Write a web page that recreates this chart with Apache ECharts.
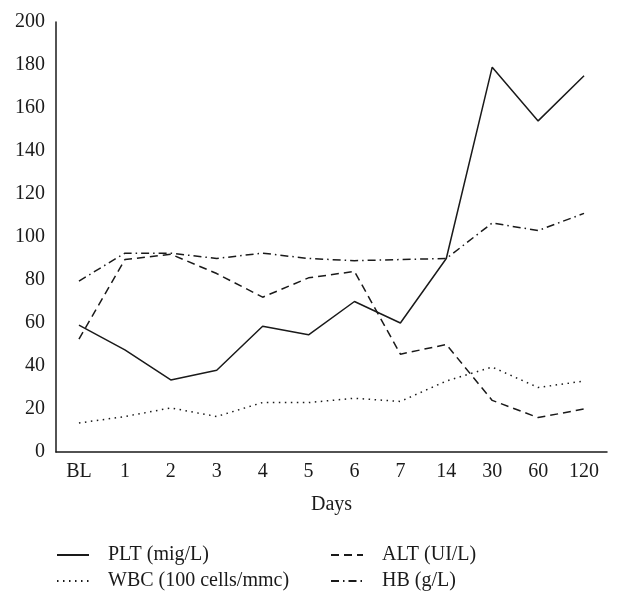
<!DOCTYPE html>
<html>
<head>
<meta charset="utf-8">
<script src="https://cdn.jsdelivr.net/npm/echarts@6/dist/echarts.min.js"></script>
<style>
html,body{margin:0;padding:0;background:#fff;}
#chart{width:620px;height:605px;}
</style>
</head>
<body>
<div id="chart"></div>
<script>
var categories = ['BL', '1', '2', '3', '4', '5', '6', '7', '14', '30', '60', '120'];
var pltValues = [59, 47.5, 33.5, 38, 58.5, 54.5, 70, 60, 90, 179, 154, 175];
var altValues = [52.5, 89.5, 92, 83, 72, 81, 84, 45.5, 50, 24, 16, 20];
var wbcValues = [13.5, 16.5, 20.5, 16.5, 23, 23, 25, 23.5, 33, 39.5, 30, 33];
var hbValues = [79.5, 92.5, 92.5, 90, 92.5, 90, 89, 89.5, 90, 106.5, 103, 111];
var seriesNames = ['PLT (mig/L)', 'ALT (UI/L)', 'WBC (100 cells/mmc)', 'HB (g/L)'];
var yTicks = { min: 0, max: 200, interval: 20 };

var FONT = 'Liberation Serif';
var INK = '#1a1a1a';

function mkSeries(name, data, dash) {
  return {
    name: name,
    type: 'line',
    data: data,
    symbol: 'none',
    showSymbol: false,
    silent: true,
    animation: false,
    lineStyle: { color: INK, width: 1.5, type: dash, cap: 'butt' },
    itemStyle: { color: INK }
  };
}

function mkLegend(name, left, top) {
  return {
    data: [name],
    left: left,
    top: top,
    itemWidth: 32,
    itemHeight: 14,
    padding: 0,
    selectedMode: false,
    itemStyle: { opacity: 0 },
    textStyle: { fontFamily: FONT, fontSize: 20, color: INK, padding: [0, 0, 0, 14] }
  };
}

var chart = echarts.init(document.getElementById('chart'), null, { renderer: 'canvas' });
chart.setOption({
  animation: false,
  backgroundColor: '#fff',
  grid: { left: 56, right: 13, top: 22, bottom: 153, containLabel: false },
  legend: [
    mkLegend(seriesNames[0], 56, 545),
    mkLegend(seriesNames[1], 330, 545),
    mkLegend(seriesNames[2], 56, 571),
    mkLegend(seriesNames[3], 330, 571)
  ],
  xAxis: {
    type: 'category',
    data: categories,
    boundaryGap: true,
    name: 'Days',
    nameLocation: 'middle',
    nameGap: 43,
    nameTextStyle: { fontFamily: FONT, fontSize: 20, color: INK },
    axisLine: { lineStyle: { color: INK, width: 1.5 } },
    axisTick: { show: false },
    axisLabel: { fontFamily: FONT, fontSize: 20, color: INK, margin: 10 },
    splitLine: { show: false }
  },
  yAxis: {
    type: 'value',
    min: yTicks.min,
    max: yTicks.max,
    interval: yTicks.interval,
    axisLine: { show: true, lineStyle: { color: INK, width: 1.5 } },
    axisTick: { show: false },
    axisLabel: { fontFamily: FONT, fontSize: 20, color: INK, margin: 11 },
    splitLine: { show: false }
  },
  series: [
    mkSeries(seriesNames[0], pltValues, 'solid'),
    mkSeries(seriesNames[1], altValues, [8, 5]),
    mkSeries(seriesNames[2], wbcValues, [1.5, 4.5]),
    mkSeries(seriesNames[3], hbValues, [8, 4, 1.5, 4])
  ]
});
</script>
</body>
</html>
